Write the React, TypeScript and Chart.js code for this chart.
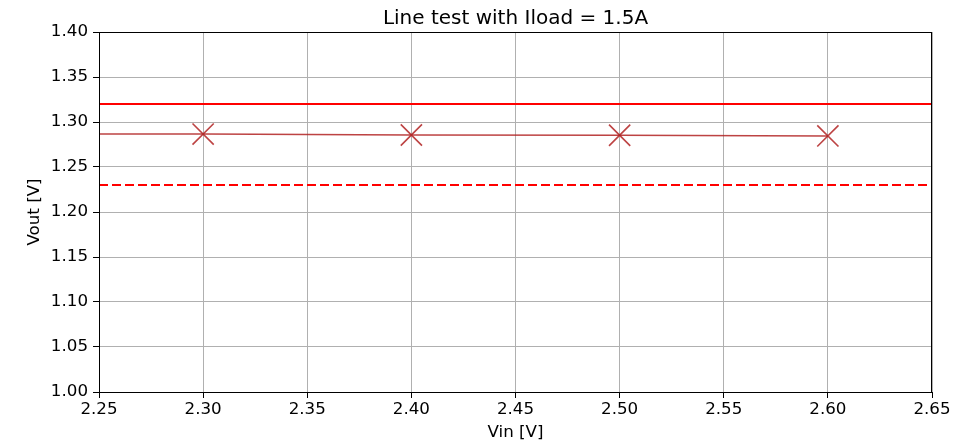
import React, { useEffect, useRef } from "react";
import { Chart, registerables } from "chart.js";

Chart.register(...registerables);

const vin = [2.2, 2.3, 2.4, 2.5, 2.6];
const vout = [1.2868, 1.2866, 1.2856, 1.2853, 1.2845];
const upperLimit = 1.32;
const lowerLimit = 1.23;
const xRange = [2.25, 2.65];
const yRange = [1.0, 1.4];
const titleText = "Line test with Iload = 1.5A";
const xLabel = "Vin [V]";
const yLabel = "Vout [V]";

const FONT = "'DejaVu Sans', sans-serif";
const DATA_COLOR = "rgba(178,34,34,0.85)";

const framePlugin = {
  id: "frame",
  afterDraw(chart: any) {
    const { ctx, chartArea } = chart;
    ctx.save();
    ctx.strokeStyle = "#000";
    ctx.lineWidth = 1;
    ctx.strokeRect(
      Math.round(chartArea.left) + 0.5,
      Math.round(chartArea.top) + 0.5,
      Math.round(chartArea.right - chartArea.left) - 1,
      Math.round(chartArea.bottom - chartArea.top)
    );
    ctx.fillStyle = "#000";
    ctx.font = `20px ${FONT}`;
    ctx.textAlign = "center";
    ctx.textBaseline = "alphabetic";
    ctx.fillText(titleText, (chartArea.left + chartArea.right) / 2, chartArea.top - 8);
    ctx.restore();
  },
};

export default function App() {
  const ref = useRef<HTMLCanvasElement>(null);
  useEffect(() => {
    const canvas = ref.current!;
    const chart = new Chart(canvas, {
      type: "line",
      data: {
        datasets: [
          {
            data: [
              { x: xRange[0], y: upperLimit },
              { x: xRange[1], y: upperLimit },
            ],
            borderColor: "#ff0000",
            borderWidth: 2.2,
            pointRadius: 0,
          },
          {
            data: [
              { x: xRange[0], y: lowerLimit },
              { x: xRange[1], y: lowerLimit },
            ],
            borderColor: "#ff0000",
            borderWidth: 2.2,
            borderDash: [9, 4],
            pointRadius: 0,
          },
          {
            data: vin.map((v, i) => ({ x: v, y: vout[i] })),
            borderColor: DATA_COLOR,
            borderWidth: 1.5,
            pointStyle: "crossRot",
            pointRadius: 15,
            pointBorderWidth: 1.6,
            pointBorderColor: DATA_COLOR,
          },
        ],
      },
      options: {
        responsive: false,
        animation: false,
        devicePixelRatio: 1,
        layout: { padding: { top: 32, right: 32, left: 0, bottom: 0 } },
        plugins: {
          legend: { display: false },
          tooltip: { enabled: false },
          title: { display: false },
        },
        scales: {
          x: {
            type: "linear",
            min: xRange[0],
            max: xRange[1],
            afterFit: (s: any) => {
              s.height = 53;
            },
            ticks: {
              stepSize: 0.05,
              color: "#000",
              font: { family: FONT, size: 16.7 },
              padding: 2,
              maxRotation: 0,
              callback: (v: any) => Number(v).toFixed(2),
            },
            grid: {
              color: "#b0b0b0",
              lineWidth: 1,
              tickLength: 6,
              tickColor: "#000",
            },
            border: { color: "#000", width: 1 },
            title: {
              display: true,
              text: xLabel,
              color: "#000",
              font: { family: FONT, size: 16.7 },
              padding: { top: 0, bottom: 2 },
            },
          },
          y: {
            type: "linear",
            min: yRange[0],
            max: yRange[1],
            afterFit: (s: any) => {
              s.width = 99;
            },
            ticks: {
              stepSize: 0.05,
              color: "#000",
              font: { family: FONT, size: 16.7 },
              padding: 5,
              callback: (v: any) => Number(v).toFixed(2),
            },
            grid: {
              color: "#b0b0b0",
              lineWidth: 1,
              tickLength: 6,
              tickColor: "#000",
            },
            border: { color: "#000", width: 1 },
            title: {
              display: true,
              text: yLabel,
              color: "#000",
              font: { family: FONT, size: 16.7 },
              padding: { top: 25, bottom: 0 },
            },
          },
        },
      },
      plugins: [framePlugin],
    } as any);
    return () => chart.destroy();
  }, []);
  return (
    <div style={{ position: "fixed", left: 0, top: 0, width: 964, height: 445, background: "#fff" }}>
      <canvas ref={ref} width={964} height={445} />
    </div>
  );
}
